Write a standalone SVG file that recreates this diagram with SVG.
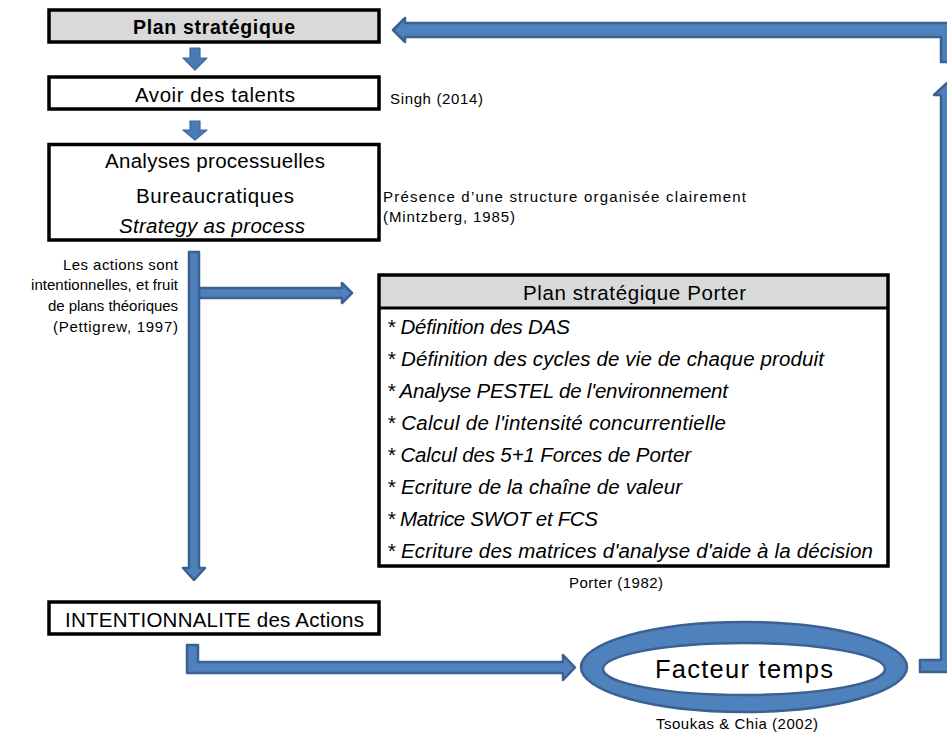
<svg xmlns="http://www.w3.org/2000/svg" width="947" height="736" viewBox="0 0 947 736">
<style>
text{font-family:"Liberation Sans",Arial,sans-serif;fill:#000}
.m{font-size:20.5px}
.b{font-weight:bold;font-size:19.5px}
.i{font-style:italic;font-size:20.5px}
.s{font-size:15px}
.box{fill:#fff;stroke:#000;stroke-width:3.5}
.gray{fill:#d9d9d9}
.arr{fill:#4f81bd;stroke:#3a6190;stroke-width:2.5;stroke-linejoin:round}
.sarr{fill:#4a7bb7;stroke:#3d679a;stroke-width:1.2;stroke-linejoin:round}
</style>
<rect width="947" height="736" fill="#fff"/>
<g id="connectors">
  <path class="sarr" d="M190,48 L200,48 L200,58 L207,58 L195,70 L183,58 L190,58 Z"/>
  <path class="sarr" d="M190,121 L200,121 L200,130 L207,130 L195,140 L183,130 L190,130 Z"/>
  <path class="arr" d="M199,288 L342,288 L342,283 L352,293 L342,303 L342,298 L199,298 Z"/>
  <path class="arr" d="M189,252 L199,252 L199,568 L205,568 L194,580 L183,568 L189,568 Z"/>
  <path class="arr" d="M187,645 L198,645 L198,662 L563,662 L563,655 L575,667.5 L563,680 L563,673 L187,673 Z"/>
  <path class="arr" d="M920,660 L941,660 L941,95 L934,95 L947,83 L960,95 L953,95 L953,666 Q953,672 947,672 L920,672 Z"/>
  <path class="arr" d="M941,62 L941,37 L405,37 L405,42 L393,30 L405,18 L405,23 L947,23 Q955,23 955,31 L955,62 Z"/>
</g>
<g id="plan">
  <rect class="box gray" x="49" y="10" width="330" height="32"/>
  <text class="b" x="133" y="34" textLength="162">Plan stratégique</text>
</g>
<g id="talents">
  <rect class="box" x="49" y="77" width="330" height="32"/>
  <text class="m" x="135" y="102" textLength="160">Avoir des talents</text>
</g>
<g id="singh">
  <text class="s" x="390" y="104" textLength="93">Singh (2014)</text>
</g>
<g id="analyses">
  <rect class="box" x="49" y="144.5" width="330" height="95.5"/>
  <text class="m" x="105" y="168" textLength="220">Analyses processuelles</text>
  <text class="m" x="136" y="203" textLength="158">Bureaucratiques</text>
  <text class="i" x="119" y="233" textLength="186">Strategy as process</text>
</g>
<g id="mintzberg">
  <text class="s" x="383" y="202" textLength="363">Présence d’une structure organisée clairement</text>
  <text class="s" x="383" y="222" textLength="132">(Mintzberg, 1985)</text>
</g>
<g id="pettigrew">
  <text class="s" x="63" y="270" textLength="115">Les actions sont</text>
  <text class="s" x="31" y="290" textLength="147">intentionnelles, et fruit</text>
  <text class="s" x="48" y="311" textLength="130">de plans théoriques</text>
  <text class="s" x="53" y="332" textLength="125">(Pettigrew, 1997)</text>
</g>
<g id="porter">
  <rect class="gray" x="379" y="275" width="509" height="33"/>
  <rect class="box" x="379" y="275" width="509" height="291" style="fill:none"/>
  <line x1="379" y1="308" x2="888" y2="308" stroke="#000" stroke-width="3"/>
  <text class="m" x="523" y="300" textLength="223">Plan stratégique Porter</text>
  <text class="i" x="387" y="334" textLength="183">* Définition des DAS</text>
  <text class="i" x="387" y="366" textLength="437">* Définition des cycles de vie de chaque produit</text>
  <text class="i" x="387" y="398" textLength="341">* Analyse PESTEL de l'environnement</text>
  <text class="i" x="387" y="430" textLength="339">* Calcul de l'intensité concurrentielle</text>
  <text class="i" x="387" y="462" textLength="304">* Calcul des 5+1 Forces de Porter</text>
  <text class="i" x="387" y="494" textLength="295">* Ecriture de la chaîne de valeur</text>
  <text class="i" x="387" y="526" textLength="211">* Matrice SWOT et FCS</text>
  <text class="i" x="387" y="558" textLength="486">* Ecriture des matrices d'analyse d'aide à la décision</text>
</g>
<g id="porter-ref">
  <text class="s" x="569" y="588" textLength="94">Porter (1982)</text>
</g>
<g id="intentionnalite">
  <rect class="box" x="49" y="602" width="330" height="32"/>
  <text class="m" x="65" y="627" textLength="299">INTENTIONNALITE des Actions</text>
</g>
<g id="facteur">
  <ellipse cx="744" cy="667" rx="163" ry="45" fill="#4f81bd" stroke="#3a6190" stroke-width="2.5"/>
  <ellipse cx="744" cy="669" rx="141" ry="26" fill="#fff" stroke="#3a6190" stroke-width="2.5"/>
  <text x="655" y="678" style="font-size:25.5px" textLength="178">Facteur temps</text>
</g>
<g id="tsoukas">
  <text class="s" x="656" y="729" textLength="162">Tsoukas &amp; Chia (2002)</text>
</g>
</svg>
